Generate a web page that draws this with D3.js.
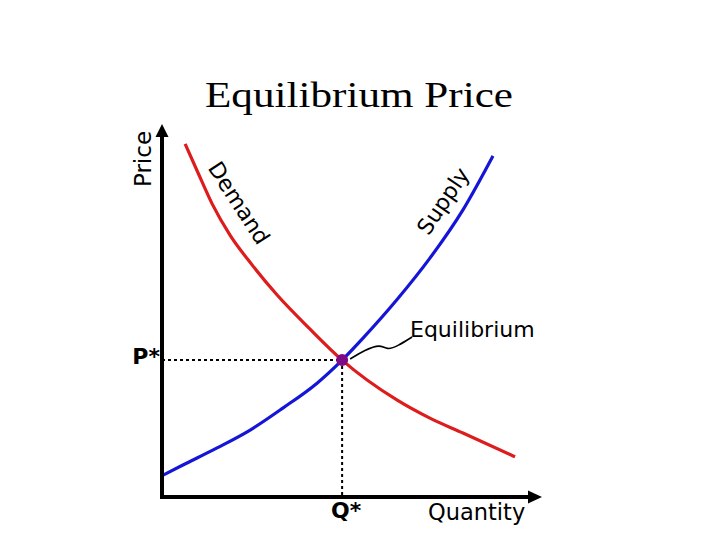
<!DOCTYPE html>
<html>
<head>
<meta charset="utf-8">
<script src="https://cdn.jsdelivr.net/npm/d3@7"></script>
<style>
  body { margin: 0; background: #fff; }
  svg { display: block; }
</style>
</head>
<body>
<svg id="chart" width="720" height="540"></svg>
<script>
// Supply and demand sketch (quantity 0-10, price 0-10).

var demandQ = [0.61, 0.95, 1.32, 1.79, 2.37, 3.03, 3.89, 4.74, 6.18, 7.05, 7.92, 9.29];
var demandP = [9.49, 8.71, 7.88, 7.04, 6.24, 5.43, 4.52, 3.68, 2.61, 2.12, 1.72, 1.08];

var supplyQ = [0.03, 0.55, 1.45, 2.32, 3.18, 4.08, 4.74, 5.29, 6.18, 7.05, 7.92, 8.71];
var supplyP = [0.59, 0.86, 1.32, 1.80, 2.39, 3.06, 3.68, 4.27, 5.30, 6.42, 7.72, 9.17];

var equilibrium = [4.74, 3.68];

// the squiggly pointer from the label down to the dot
var calloutQ = [4.95, 5.34, 5.74, 5.92, 6.21, 6.58];
var calloutP = [3.71, 3.95, 4.11, 3.95, 4.06, 4.30];

var title = 'Equilibrium Price';
var curveLabels = ['Demand', 'Supply'];
var axisLabels = ['Quantity', 'Price'];
var starLabels = ['Q*', 'P*'];
var pointLabel = 'Equilibrium';

var svg = d3.select('#chart');
var sans = "'DejaVu Sans', Verdana, sans-serif";

var x = d3.scaleLinear().domain([0, 10]).range([162, 542]);
var y = d3.scaleLinear().domain([0, 10]).range([497, 125]);

function pairs(a, b) {
  return a.map(function(d, i) { return [d, b[i]]; });
}

var line = d3.line()
  .x(function(d) { return x(d[0]); })
  .y(function(d) { return y(d[1]); })
  .curve(d3.curveMonotoneX);

// Title (the original is stretched sideways)
svg.append('text')
  .attr('x', 359)
  .attr('y', 107)
  .attr('text-anchor', 'middle')
  .attr('font-family', "'Liberation Serif', 'Times New Roman', serif")
  .attr('font-size', 35)
  .attr('textLength', 308)
  .attr('lengthAdjust', 'spacingAndGlyphs')
  .text(title);

// Dotted guides to the axes
var eqX = x(equilibrium[0]), eqY = y(equilibrium[1]);
svg.append('line')
  .attr('x1', x(0)).attr('y1', eqY)
  .attr('x2', eqX).attr('y2', eqY)
  .attr('stroke', '#000').attr('stroke-width', 2)
  .attr('stroke-dasharray', '3,3');
svg.append('line')
  .attr('x1', eqX).attr('y1', eqY)
  .attr('x2', eqX).attr('y2', y(0))
  .attr('stroke', '#000').attr('stroke-width', 2)
  .attr('stroke-dasharray', '3,3');

// Curves
svg.append('path')
  .attr('d', line(pairs(supplyQ, supplyP)))
  .attr('fill', 'none')
  .attr('stroke', '#1515d8')
  .attr('stroke-width', 3.2);

svg.append('path')
  .attr('d', line(pairs(demandQ, demandP)))
  .attr('fill', 'none')
  .attr('stroke', '#dd1c1c')
  .attr('stroke-width', 3.2);

// Callout squiggle
svg.append('path')
  .attr('d', d3.line()
    .x(function(d) { return x(d[0]); })
    .y(function(d) { return y(d[1]); })
    .curve(d3.curveBasis)(pairs(calloutQ, calloutP)))
  .attr('fill', 'none')
  .attr('stroke', '#000')
  .attr('stroke-width', 1.6);

// Equilibrium dot
svg.append('circle')
  .attr('cx', eqX)
  .attr('cy', eqY)
  .attr('r', 6)
  .attr('fill', '#7d0a86');

// Axes with arrow heads
svg.append('line')
  .attr('x1', x(0)).attr('y1', y(0) + 2)
  .attr('x2', x(0)).attr('y2', y(10) + 10)
  .attr('stroke', '#000').attr('stroke-width', 4);
svg.append('line')
  .attr('x1', x(0) - 2).attr('y1', y(0))
  .attr('x2', x(10) - 10).attr('y2', y(0))
  .attr('stroke', '#000').attr('stroke-width', 4);

svg.append('path')
  .attr('d', 'M' + x(0) + ',' + (y(10) - 1) + 'l-6.5,13h13z')
  .attr('fill', '#000');
svg.append('path')
  .attr('d', 'M' + x(10) + ',' + y(0) + 'l-14,-6.5v13z')
  .attr('fill', '#000');

// Axis titles
svg.append('text')
  .attr('transform', 'translate(151,159) rotate(-90)')
  .attr('text-anchor', 'middle')
  .attr('font-family', sans)
  .attr('font-size', 23)
  .text(axisLabels[1]);

svg.append('text')
  .attr('x', 428)
  .attr('y', 520)
  .attr('font-family', sans)
  .attr('font-size', 22.5)
  .text(axisLabels[0]);

// Q* and P*
svg.append('text')
  .attr('x', eqX + 4)
  .attr('y', 518)
  .attr('text-anchor', 'middle')
  .attr('font-family', sans)
  .attr('font-weight', 'bold')
  .attr('font-size', 22)
  .text(starLabels[0]);

svg.append('text')
  .attr('x', x(0) - 2)
  .attr('y', eqY + 4)
  .attr('text-anchor', 'end')
  .attr('font-family', sans)
  .attr('font-weight', 'bold')
  .attr('font-size', 22)
  .text(starLabels[1]);

// Curve labels
svg.append('text')
  .attr('transform', 'translate(239,203) rotate(57)')
  .attr('text-anchor', 'middle')
  .attr('dy', '0.35em')
  .attr('font-family', sans)
  .attr('font-size', 22)
  .text(curveLabels[0]);

svg.append('text')
  .attr('transform', 'translate(443,201) rotate(-56)')
  .attr('text-anchor', 'middle')
  .attr('dy', '0.35em')
  .attr('font-family', sans)
  .attr('font-size', 22)
  .text(curveLabels[1]);

svg.append('text')
  .attr('x', 410)
  .attr('y', 337)
  .attr('font-family', sans)
  .attr('font-size', 22)
  .text(pointLabel);
</script>
</body>
</html>
